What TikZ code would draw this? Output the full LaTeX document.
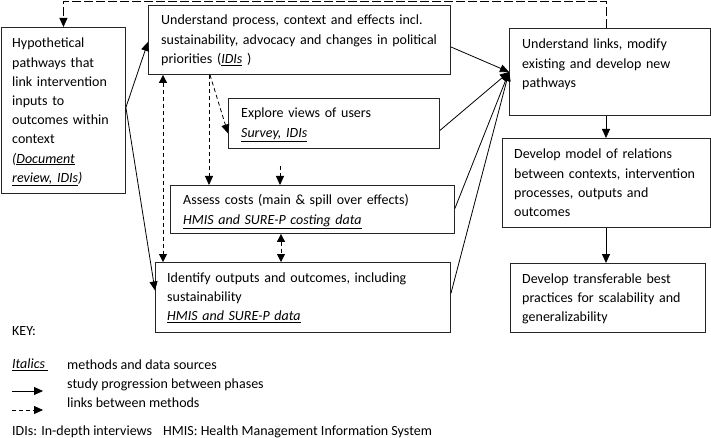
\documentclass[tikz,border=0pt]{standalone}
\usepackage{fontspec}
\setmainfont{Carlito}
\usetikzlibrary{arrows.meta,calc}
\begin{document}
\begin{tikzpicture}[x=1pt,y=-1pt,
  box/.style={draw=black!85,line width=0.9pt,inner sep=0pt,anchor=north west},
  txt/.style={anchor=base west,inner sep=0pt,text width=300pt,align=left,
    font=\fontsize{14}{19.2}\selectfont},
  conn/.style={line width=0.8pt,-{Triangle[length=9pt,width=8pt]}},
  dconn/.style={conn,dash pattern=on 4pt off 3pt},
  ddconn/.style={line width=0.8pt,{Triangle[length=8pt,width=8pt]}-{Triangle[length=8pt,width=8pt]},dash pattern=on 4pt off 3pt},
]
\useasboundingbox (0,0) rectangle (711,438);
% boxes
\node[box,minimum width=124pt,minimum height=166pt] (hyp) at (1,27) {};
\node[box,minimum width=302pt,minimum height=69pt] (up) at (148,5) {};
\node[box,minimum width=211pt,minimum height=50pt] (ex) at (228,98) {};
\node[box,minimum width=284pt,minimum height=48pt] (ac) at (170,185) {};
\node[box,minimum width=295pt,minimum height=70pt] (idf) at (155,262) {};
\node[box,minimum width=201pt,minimum height=87pt] (ul) at (509,28) {};
\node[box,minimum width=208pt,minimum height=89pt] (dm) at (502,138) {};
\node[box,minimum width=195pt,minimum height=69pt] (dt) at (510,263) {};
% texts
\node[txt] (hypt) at (12,48) {\strut Hypothetical\\pathways that\\link intervention\\inputs to\\outcomes within\\context\\\textit{(\underline{Document}}\\\textit{\underline{review, IDIs})}};
\node[txt] (upt) at (161,25) {\strut Understand process, context and effects incl.\\sustainability, advocacy and changes in political\\priorities (\underline{\textit{IDIs}} )};
\node[txt] (ext) at (241,118) {\strut Explore views of users\\\underline{\textit{Survey, IDIs}}};
\node[txt] (act) at (183,205) {\strut Assess costs (main \& spill over effects)\\\underline{\textit{HMIS and SURE-P costing data}}};
\node[txt] (idft) at (167,282) {\strut Identify outputs and outcomes, including\\sustainability\\\underline{\textit{HMIS and SURE-P data}}};
\node[txt] (ult) at (522,49) {\strut Understand links, modify\\existing and develop new\\pathways};
\node[txt] (dmt) at (514,159) {\strut Develop model of relations\\between contexts, intervention\\processes, outputs and\\outcomes};
\node[txt] (dtt) at (522,283) {\strut Develop transferable best\\practices for scalability and\\generalizability};
% helper coordinates
\coordinate (topy) at (0,1);
\coordinate (xa) at (163,0);
\coordinate (xb) at (209,0);
\coordinate (xc) at (281,0);
\coordinate (xd) at (606,0);
\coordinate (exin) at (280,166);
% solid connectors
\draw[conn] ([yshift=3pt]hyp.east) -- ([yshift=-2pt]up.west);
\draw[conn] ([yshift=3pt]hyp.east) -- ([yshift=7pt]idf.west);
\draw[conn] ([yshift=-7pt]up.east) -- (ul.west);
\draw[conn] ([yshift=-7pt]ex.east) -- (ul.west);
\draw[conn] ([yshift=1pt]ac.east) -- (ul.west);
\draw[conn] ([yshift=4pt]idf.east) -- (ul.west);
\draw[conn] (ul.south -| xd) -- (dm.north -| xd);
\draw[conn] (dm.south -| xd) -- (dt.north -| xd);
% dashed connectors
\draw[dconn,dash pattern=on 9pt off 3pt] (ul.north -| xd) -- (topy -| xd) -- (topy -| hyp.north) -- (hyp.north);
\draw[ddconn] (up.south -| xa) -- (idf.north -| xa);
\draw[dconn] (up.south -| xb) -- (ac.north -| xb);
\draw[dconn] ([xshift=1pt]up.south -| xb) -- ([yshift=-10pt]ex.west);
\draw[dconn] (exin) -- (ac.north -| exin);
\draw[ddconn] (ac.south -| xc) -- (idf.north -| xc);
% key
\begin{scope}[every node/.style={anchor=west,inner sep=0pt,font=\fontsize{14}{19.2}\selectfont}]
\node (key) at (12,331) {KEY:};
\node (kit) at (12,365) {\underline{\textit{Italics} }};
\node (kitt) at (67,365) {methods and data sources};
\node (kst) at (67,385) {study progression between phases};
\node (klt) at (67,403) {links between methods};
\node (kidi) at (12,432) {IDIs: In-depth interviews};
\node (khmis) at (163,432) {HMIS: Health Management Information System};
\end{scope}
\coordinate (k1a) at (12,391);
\coordinate (k1b) at (43,391);
\coordinate (k2a) at (12,410);
\coordinate (k2b) at (43,410);
\draw[conn] (k1a) -- (k1b);
\draw[dconn] (k2a) -- (k2b);
\end{tikzpicture}
\end{document}
